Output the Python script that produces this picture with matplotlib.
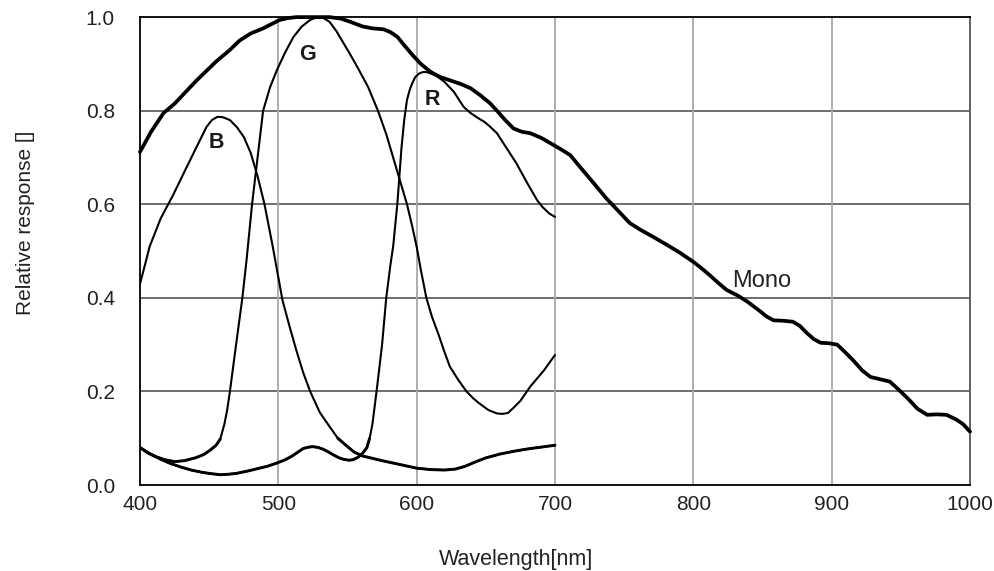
import matplotlib
matplotlib.use("Agg")
import matplotlib.pyplot as plt
import numpy as np

plt.rcParams['font.family'] = ['Liberation Sans', 'DejaVu Sans']

# Mono response
mono_wl = [400, 408, 417, 425, 433, 441, 448, 455, 465, 472, 480, 489, 495, 501, 507,
           513, 525, 537, 545, 552, 561, 568, 576, 581, 586, 591, 597, 603, 610, 617,
           624, 632, 639, 646, 653, 658, 664, 670, 676, 682, 690, 697, 704, 711, 718,
           728, 737, 746, 754, 762, 770, 781, 790, 800, 806, 812, 818, 824, 832, 839,
           848, 853, 858, 865, 872, 877, 882, 887, 892, 898, 904, 910, 916, 922, 928,
           935, 942, 948, 955, 962, 969, 976, 983, 990, 995, 1000]
mono = [0.712, 0.755, 0.795, 0.815, 0.84, 0.865, 0.885, 0.905, 0.93, 0.95, 0.965,
        0.976, 0.985, 0.994, 0.998, 1.0, 1.0, 1.0, 0.997, 0.99, 0.98, 0.976, 0.974,
        0.968, 0.958, 0.94, 0.919, 0.9, 0.883, 0.872, 0.865, 0.857, 0.848, 0.833,
        0.816, 0.8, 0.78, 0.762, 0.755, 0.752, 0.742, 0.73, 0.718, 0.705, 0.68,
        0.645, 0.613, 0.585, 0.56, 0.545, 0.532, 0.513, 0.497, 0.477, 0.463, 0.448,
        0.432, 0.417, 0.405, 0.392, 0.372, 0.36, 0.352, 0.351, 0.349, 0.34, 0.325,
        0.312, 0.304, 0.303, 0.3, 0.283, 0.265, 0.245, 0.231, 0.226, 0.221, 0.205,
        0.185, 0.163, 0.15, 0.151, 0.15, 0.14, 0.13, 0.114]

# Blue channel
b_wl = [400, 404, 407, 411, 415, 424, 433, 441, 448, 452, 456, 460, 465, 470, 475,
        480, 485, 490, 496, 503, 508, 513, 518, 523, 530, 537, 543, 550, 555, 561,
        568, 575, 586, 600, 610, 620, 628, 635, 643, 650, 660, 670, 680, 690, 700]
b_resp = [0.43, 0.475, 0.51, 0.54, 0.57, 0.62, 0.675, 0.723, 0.765, 0.78, 0.787,
          0.786, 0.78, 0.765, 0.744, 0.71, 0.66, 0.6, 0.509, 0.395, 0.34, 0.288,
          0.24, 0.2, 0.155, 0.125, 0.1, 0.082, 0.07, 0.062, 0.057, 0.052, 0.045,
          0.036, 0.033, 0.032, 0.034, 0.04, 0.05, 0.058, 0.066, 0.072, 0.077, 0.081,
          0.085]

# Green channel
g_wl = [400, 406, 412, 418, 425, 432, 440, 446, 451, 455, 458, 461, 463, 465, 469,
        474, 477, 481, 485, 489, 494, 499, 505, 511, 517, 523, 528, 532, 537, 542,
        547, 552, 557, 565, 572, 578, 583, 588, 593, 597, 600, 603, 607, 611, 616,
        620, 624, 630, 636, 641, 645, 652, 658, 662, 666, 670, 675, 682, 692, 700]
g_resp = [0.08, 0.068, 0.06, 0.054, 0.05, 0.052, 0.058, 0.065, 0.075, 0.085, 0.098,
          0.13, 0.16, 0.2, 0.29, 0.4, 0.48, 0.6, 0.7, 0.8, 0.85, 0.887, 0.925, 0.958,
          0.98, 0.994, 1.0, 0.999, 0.99, 0.97, 0.945, 0.92, 0.894, 0.85, 0.8, 0.75,
          0.7, 0.65, 0.6, 0.55, 0.509, 0.46, 0.4, 0.36, 0.32, 0.285, 0.253, 0.225,
          0.2, 0.185, 0.175, 0.16, 0.153, 0.152, 0.154, 0.165, 0.18, 0.21, 0.245,
          0.278]

# Red channel
r_wl = [400, 407, 415, 422, 430, 437, 445, 452, 458, 464, 470, 478, 485, 492, 499,
        505, 510, 514, 518, 522, 525, 529, 532, 536, 540, 544, 547, 551, 554, 558,
        561, 564, 566, 568, 571, 575, 578, 581, 583, 586, 589, 591, 593, 595, 597,
        599, 602, 605, 608, 614, 620, 627, 634, 639, 644, 649, 653, 658, 665, 672,
        680, 687, 691, 696, 700]
r_resp = [0.08, 0.067, 0.055, 0.046, 0.038, 0.032, 0.027, 0.024, 0.022, 0.023, 0.025,
          0.03, 0.035, 0.04, 0.047, 0.054, 0.062, 0.07, 0.078, 0.081, 0.082, 0.08,
          0.077, 0.071, 0.064, 0.058, 0.055, 0.053, 0.054, 0.06, 0.068, 0.08, 0.1,
          0.13, 0.2, 0.3, 0.4, 0.47, 0.51, 0.6, 0.72, 0.78, 0.823, 0.845, 0.86,
          0.872, 0.88, 0.883, 0.882, 0.875, 0.862, 0.84, 0.808, 0.795, 0.785, 0.776,
          0.766, 0.752, 0.72, 0.688, 0.645, 0.609, 0.594, 0.58, 0.573]

x_ticks = [400, 500, 600, 700, 800, 900, 1000]
y_ticks = [0.0, 0.2, 0.4, 0.6, 0.8, 1.0]

fig = plt.figure(figsize=(9.95, 5.71), dpi=100)
ax = fig.add_axes([0.1407, 0.1506, 0.8342, 0.8194])

# grid: dark horizontal, lighter vertical
for y in y_ticks[1:-1]:
    ax.axhline(y, color='#555555', lw=1.2, zorder=1)
for x in x_ticks[1:-1]:
    ax.axvline(x, color='#a8a8a8', lw=1.3, zorder=1)

line_kw = dict(color='black', solid_joinstyle='round', solid_capstyle='round')
for wl, resp in [(b_wl, b_resp), (g_wl, g_resp), (r_wl, r_resp)]:
    ax.plot(wl, resp, lw=1.5, zorder=3, **line_kw)
    # the low tails print heavier in the original
    low = np.ma.masked_where(np.array(resp) > 0.1, resp)
    ax.plot(wl, low, lw=2.1, zorder=3, **line_kw)
ax.plot(mono_wl, mono, lw=2.7, zorder=4, clip_on=False, **line_kw)

lbl_font = ['Liberation Sans Narrow', 'Liberation Sans', 'DejaVu Sans']
ax.text(455.4, 0.733, 'B', ha='center', va='center', fontsize=15.5, fontweight='bold',
        family=lbl_font, color='#1a1a1a')
ax.text(520.8, 0.921, 'G', ha='center', va='center', fontsize=15.5, fontweight='bold',
        family=lbl_font, color='#1a1a1a')
ax.text(611, 0.823, 'R', ha='center', va='center', fontsize=15.5, fontweight='bold',
        family=lbl_font, color='#1a1a1a')
ax.text(827.8, 0.423, 'Mono', ha='left', va='baseline', fontsize=17, color='#222222')

ax.set_xlim(400, 1000)
ax.set_ylim(0, 1.0)
ax.set_xticks(x_ticks)
ax.set_yticks(y_ticks)
ax.set_yticklabels([f'{v:.1f}' for v in y_ticks])
ax.tick_params(length=0, labelsize=15, colors='#222222')
ax.tick_params(axis='x', pad=7)
ax.tick_params(axis='y', pad=18)

for side in ['left', 'bottom', 'top']:
    ax.spines[side].set_color('black')
    ax.spines[side].set_linewidth(1.3)
ax.spines['right'].set_color('#555555')
ax.spines['right'].set_linewidth(1.3)

fig.text(0.5186, 0.02, 'Wavelength[nm]', ha='center', va='center', fontsize=15.5,
         color='#222222')
fig.text(0.026, 0.609, 'Relative response []', ha='center', va='center', fontsize=15,
         rotation=90, color='#222222')

fig.savefig('out.png', dpi=100)
